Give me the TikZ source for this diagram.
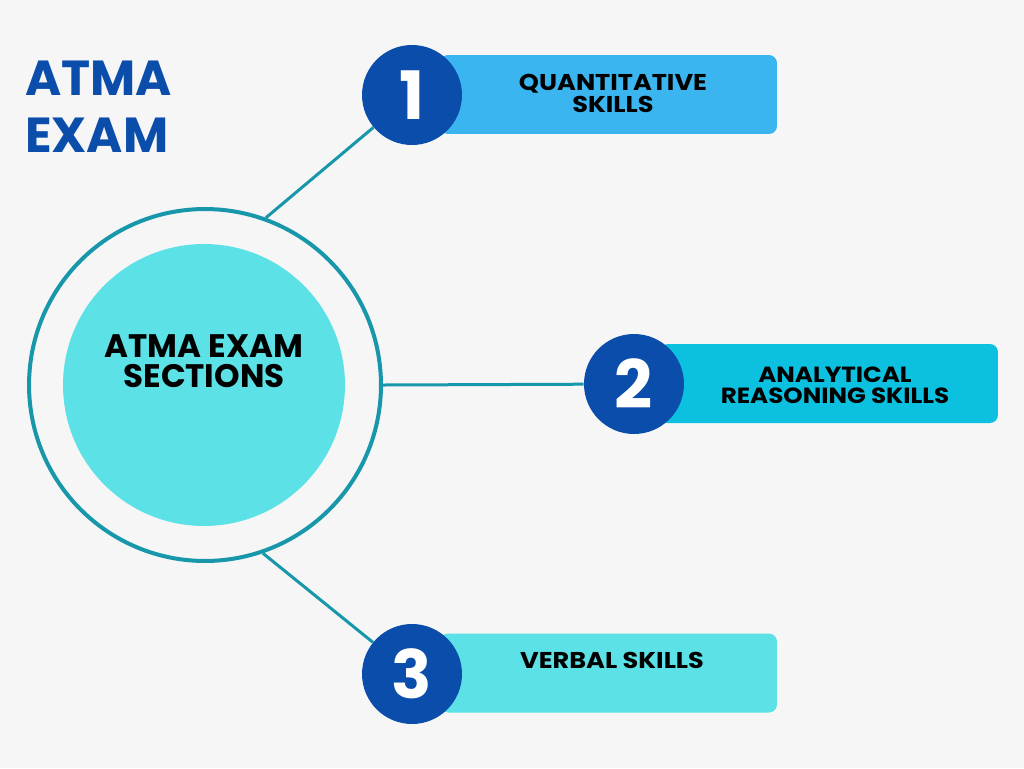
\documentclass[tikz,border=0pt]{standalone}
\usepackage{fontspec}
\setmainfont{Poppins}
\newfontfamily\anchas[FakeStretch=1.12]{Poppins}
\usepackage{xcolor}
\usepackage{tikz}
\usetikzlibrary{positioning}
\definecolor{fondo}{HTML}{F6F6F6}
\definecolor{azul}{HTML}{0B4DAA}
\definecolor{verdeazul}{HTML}{1897AB}
\definecolor{cian}{HTML}{5CE1E6}
\definecolor{celeste}{HTML}{3AB5EF}
\definecolor{turquesa}{HTML}{0CC0DF}
\tikzset{
  anillo/.style={circle,draw=verdeazul,line width=0.08cm,minimum size=7.04cm,inner sep=0pt},
  disco/.style={circle,fill=cian,minimum size=5.64cm,inner sep=0pt},
  num/.style={circle,fill=azul,minimum size=2cm,inner sep=0pt,text=white,font=\bfseries\fontsize{38}{38}\selectfont},
  caja/.style={rounded corners=0.16cm,minimum height=1.58cm,inner sep=0pt},
  etiq/.style={align=center,font=\anchas\bfseries\fontsize{13}{12.5}\selectfont},
  enlace/.style={verdeazul,line width=0.06cm}
}
\begin{document}
\begin{tikzpicture}[x=0.02cm,y=-0.02cm]
\fill[fondo] (0,0) rectangle (1024,768);
\node[anchor=base west,text=azul,font=\bfseries\fontsize{28}{28}\selectfont] (titA) at (19,95) {ATMA};
\node[anchor=base west,text=azul,font=\bfseries\fontsize{28}{28}\selectfont] (titB) at (19,152) {EXAM};
\node[caja,fill=celeste,minimum width=6.74cm] (caja1) at (608.5,94.5) {};
\node[caja,fill=turquesa,minimum width=6.76cm] (caja2) at (829,383.5) {};
\node[caja,fill=cian,minimum width=6.74cm] (caja3) at (608.5,673) {};
\node[anillo] (ring) at (205,385) {};
\node[disco] (centro) at (204,385) {};
\node[etiq,font=\bfseries\fontsize{18.5}{17}\selectfont] (tcentro) at (204,361) {ATMA EXAM\\SECTIONS};
\node[num] (n1) at (412,95) {1};
\node[num] (n2) at (634,384) {2};
\node[num] (n3) at (412,674) {3};
\node[etiq] (t1) at (613,93) {QUANTITATIVE\\SKILLS};
\node[etiq,font=\anchas\bfseries\fontsize{12.5}{12}\selectfont] (t2) at (835,385) {ANALYTICAL\\REASONING SKILLS};
\node[etiq] (t3) at (612,660) {VERBAL SKILLS};
\draw[enlace] (ring.70) -- (n1);
\draw[enlace] (ring.east) -- (n2);
\draw[enlace] (ring.-71) -- (n3);
\end{tikzpicture}
\end{document}
